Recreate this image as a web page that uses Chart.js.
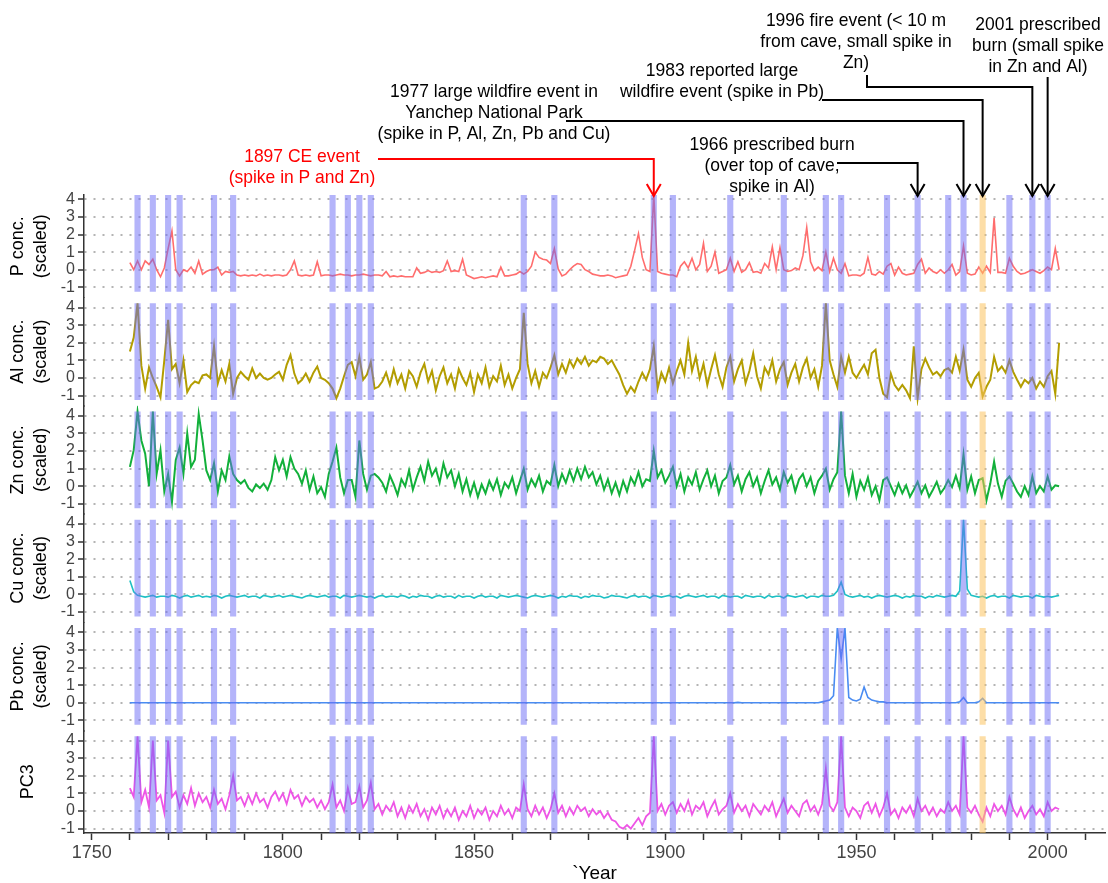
<!DOCTYPE html>
<html lang="en">
<head>
<meta charset="UTF-8">
<title>Fire events and scaled element concentrations</title>
<script src="https://cdn.jsdelivr.net/npm/chart.js"></script>
<style>
  html, body { margin: 0; padding: 0; background: #fff; }
  #wrap { width: 1108px; height: 883px; }
</style>
</head>
<body>
<div id="wrap"><canvas id="chart" width="1108" height="883"></canvas></div>
<script>
// annual values, 1760 .. 2003
const startYear = 1760;

const pVals = [
  0.4, 0.0, 0.5, 0.0, 0.5, 0.3, 0.6, 0.0, -0.4, 0.1,
  1.2, 2.2, 0.0, -0.35, 0.0, -0.1, 0.15, -0.2, 0.5, -0.25,
  -0.1, 0.0, 0.0, 0.15, -0.3, -0.1, -0.15, -0.1, -0.3, -0.35,
  -0.3, -0.35, -0.3, -0.35, -0.25, -0.35, -0.3, -0.35, -0.3, -0.3,
  -0.35, -0.3, 0.0, 0.5, -0.3, -0.35, -0.3, -0.35, -0.3, 0.45,
  -0.35, -0.3, -0.3, -0.35, -0.3, -0.25, -0.3, -0.3, -0.35, -0.3,
  -0.3, -0.25, -0.3, -0.35, -0.3, -0.3, -0.35, -0.1, -0.4, -0.35,
  -0.4, -0.35, -0.4, -0.4, -0.4, 0.1, -0.2, -0.15, -0.05, -0.15,
  -0.1, -0.15, -0.05, 0.5, -0.1, -0.05, -0.1, 0.6, -0.3, -0.4,
  -0.5, -0.45, -0.4, -0.45, -0.4, -0.35, -0.4, 0.15, -0.35, -0.35,
  -0.3, -0.25, -0.1, -0.25, -0.1, 0.2, 1.0, 0.7, 0.6, 0.55,
  0.35, 1.2, 0.05, -0.35, -0.25, 0.0, 0.2, 0.35, 0.3, 0.0,
  -0.1, -0.25, -0.3, -0.35, -0.35, -0.3, -0.35, -0.45, -0.4, -0.35,
  -0.3, 0.2, 1.1, 2.05, 0.7, 0.0, -0.1, 4.24, -0.1, -0.2,
  -0.25, -0.3, -0.3, -0.4, 0.2, 0.45, 0.1, 0.65, 0.0, 0.3,
  1.5, -0.1, 0.2, 1.0, -0.2, -0.1, 0.0, 0.65, -0.1, 0.45,
  -0.15, 0.0, 0.4, -0.15, -0.1, -0.2, 0.35, 0.1, 1.3, 0.0,
  1.25, 0.0, -0.1, -0.05, 0.1, 0.0, 0.8, 2.4, 0.45, -0.05,
  0.15, -0.05, 1.0, -0.1, 0.65, 0.0, -0.2, 0.35, -0.35, -0.3,
  -0.3, -0.35, -0.2, 0.7, -0.25, -0.3, -0.1, -0.25, 0.2, 0.35,
  -0.3, 0.15, -0.2, -0.3, -0.25, -0.2, 0.3, 0.6, -0.2, 0.1,
  -0.1, -0.2, 0.0, -0.2, 0.0, 0.3, -0.3, -0.1, 1.35, -0.2,
  -0.3, -0.25, 0.15, -0.2, 0.2, -0.15, 2.95, -0.15, -0.15, -0.2,
  0.65, 0.2, -0.1, -0.25, -0.2, -0.1, 0.0, -0.1, -0.2, -0.05,
  0.15, 0.0, 1.2, 0.0
];

const alVals = [
  1.5, 2.3, 4.24, 0.7, -0.6, 0.6, 0.0, -0.5, -1.1, 1.0,
  3.3, 0.5, 0.8, -0.3, 1.0, -0.8, -0.4, -0.2, -0.3, 0.15,
  0.2, 0.0, 1.8, -0.3, 0.45, -0.2, 0.8, -0.9, 0.0, 0.35,
  0.1, -0.1, 0.55, 0.0, 0.25, 0.0, -0.1, 0.0, 0.2, 0.35,
  -0.1, 0.75, 1.3, 0.25, -0.3, -0.1, 0.25, -0.2, 0.3, 0.65,
  0.0, -0.1, -0.3, -0.6, -1.15, -0.6, 0.1, 0.75, 0.9, 0.1,
  1.2, -0.1, 0.2, 0.9, -0.6, -0.5, -0.2, 0.3, -0.4, 0.5,
  -0.3, 0.2, -0.6, 0.4, 0.1, -0.5, 0.3, 0.8, -0.2, 0.4,
  -0.7, 0.1, 0.6, -0.3, 0.2, -0.6, 0.5, 0.0, -0.4, 0.3,
  -0.8, 0.2, -0.3, 0.6, -0.5, 0.1, -0.2, 0.7, -0.4, 0.2,
  -0.6, 0.0, 0.5, 3.7, 0.8, -0.3, 0.4, -0.5, 0.3, 0.0,
  0.6, 1.3, 0.2, 0.8, 0.3, 1.0, 0.6, 1.1, 0.8, 1.2,
  0.7, 1.0, 0.9, 1.2, 1.1, 0.8, 1.0, 0.6, 0.2, -0.4,
  -0.9, -0.5, -0.8, -0.2, 0.3, -0.1, 0.5, 1.8, -0.6, 0.3,
  -0.2, 0.6, -0.3, 0.4, 1.0, 0.2, 2.0, 0.4, 1.2, 0.0,
  0.8, -0.4, 0.5, 1.3, 0.2, -0.5, 0.6, 1.2, -0.2, 0.5,
  1.0, -0.3, 0.4, 1.4, 0.1, -0.6, 0.6, 0.2, 1.0, -0.2,
  0.5, 0.9, -0.4, 0.3, 0.8, -0.2, 0.6, 1.1, 0.0, 0.5,
  -0.5, 0.7, 4.24, 1.0, 0.2, -0.5, 1.2, 0.3, 1.2, 0.3,
  0.0, 0.4, 0.75, 0.2, 1.4, 1.6, 0.0, -0.9, -1.1, 0.25,
  -0.4, -0.7, -0.4, -0.7, -1.15, 1.8, -1.15, 0.5, 1.1, 0.6,
  0.2, 0.35, 0.1, 0.45, 0.55, 0.3, 1.2, 0.4, 1.6, -0.1,
  -0.5, 0.0, 0.3, -1.05, -0.5, -0.1, 1.2, 0.4, 0.65, 0.3,
  1.0, 0.35, -0.1, -0.5, -0.1, -0.3, 0.0, -0.6, -0.2, -0.5,
  0.1, 0.4, -0.9, 2.0
];

const znVals = [
  1.1, 2.05, 4.24, 2.6, 1.85, 0.0, 4.24, 0.7, 2.05, -0.3,
  0.7, -0.9, 1.5, 2.2, 0.7, 3.0, 1.1, 1.5, 4.1, 2.6,
  0.9, 0.35, 1.3, -0.3, 0.9, 0.35, 1.7, 0.7, 0.35, 0.15,
  0.35, -0.1, -0.3, 0.1, -0.1, 0.15, -0.2, 0.35, 1.65, 0.9,
  1.5, 0.55, 1.65, 1.0, 0.7, 0.15, 0.9, -0.2, 0.55, -0.4,
  -0.05, -0.6, 0.7, 1.4, 2.2, 0.5, -0.4, 0.35, 0.35, -0.6,
  2.6, 0.7, -0.2, 0.6, 0.7, 0.5, 0.2, -0.3, 0.6, 0.1,
  -0.5, 0.4, 0.0, 0.9, -0.2, 0.5, 1.1, 0.3, 1.4, 0.6,
  1.0, 0.2, 1.3, 0.5, 0.9, 0.0, 0.7, -0.3, 0.4, -0.5,
  0.2, -0.6, 0.1, -0.4, 0.3, -0.2, 0.4, -0.5, 0.2, -0.1,
  0.5, -0.4, 0.3, 1.0, -0.2, 0.4, 0.0, 0.6, -0.3, 0.3,
  0.1, 1.2, 0.0, 0.7, 0.2, 0.9, 0.3, 1.0, 0.4, 1.1,
  0.5, 0.8, 0.1, 0.6, -0.2, 0.4, -0.4, 0.2, -0.5, 0.3,
  -0.3, 0.5, 0.1, 0.8, 0.0, 0.4, 0.3, 2.0, 0.5, 0.9,
  0.2, 0.6, 1.1, 0.0, 0.7, -0.3, 0.5, 0.1, 0.8, -0.2,
  0.4, 0.9, 0.0, 0.6, -0.4, 0.3, 0.5, 1.2, 0.1, 0.6,
  -0.3, 0.4, 0.8, 0.0, 0.5, -0.4, 0.3, 0.9, 0.1, 0.5,
  -0.2, 0.8, 0.2, 0.6, -0.3, 0.4, 0.7, 0.0, 0.5, -0.4,
  0.3, 0.6, 1.0, -0.2, 0.4, 0.8, 4.24, 0.6, -0.4, 0.7,
  -0.6, 0.3, -0.2, 0.5, -0.5, 0.0, -0.8, 0.35, 0.5, 0.0,
  -0.5, 0.15, -0.4, 0.05, -0.6, -0.2, 0.25, -0.4, 0.05, -0.6,
  -0.2, 0.25, -0.4, -0.1, 0.35, -0.05, 0.6, -0.1, 1.8, -0.2,
  0.55, -0.4, 0.35, 0.45, -0.8, 0.15, 1.4, 0.15, -0.6, 0.3,
  0.55, 0.15, -0.3, -0.6, 0.0, -0.5, 0.55, -0.4, 0.0, -0.3,
  0.55, -0.2, 0.05, 0.0
];

const cuVals = [
  0.8, 0.15, -0.05, -0.1, -0.15, -0.1, -0.05, -0.15, -0.1, -0.1,
  -0.15, -0.05, -0.1, -0.2, -0.1, -0.05, -0.15, -0.1, -0.05, -0.15,
  -0.1, -0.15, -0.05, -0.1, -0.2, -0.1, -0.05, -0.1, -0.15, -0.1,
  -0.05, -0.15, -0.1, -0.1, -0.2, -0.05, -0.1, -0.15, -0.1, -0.05,
  -0.15, -0.1, -0.05, -0.1, -0.15, -0.2, -0.1, -0.05, -0.1, -0.15,
  -0.1, -0.05, -0.15, -0.1, -0.1, -0.2, -0.05, -0.1, -0.15, -0.1,
  -0.05, -0.1, -0.15, -0.1, -0.2, -0.1, -0.05, -0.15, -0.1, -0.1,
  -0.15, -0.05, -0.1, -0.2, -0.1, -0.15, -0.05, -0.1, -0.1, -0.2,
  -0.1, -0.05, -0.15, -0.1, -0.1, -0.2, -0.05, -0.15, -0.1, -0.1,
  -0.2, -0.1, -0.05, -0.15, -0.1, -0.1, -0.2, -0.05, -0.1, -0.15,
  -0.1, -0.05, -0.1, -0.15, -0.2, -0.1, -0.05, -0.1, -0.15, -0.1,
  -0.05, -0.1, -0.2, -0.1, -0.15, -0.05, -0.1, -0.1, -0.2, -0.1,
  -0.15, -0.05, -0.1, -0.1, -0.2, -0.15, -0.05, -0.1, -0.1, -0.15,
  -0.2, -0.1, -0.05, -0.15, -0.1, -0.1, -0.2, -0.05, -0.1, -0.15,
  -0.1, -0.05, -0.15, -0.1, -0.2, -0.1, -0.05, -0.1, -0.15, -0.1,
  -0.05, -0.15, -0.1, -0.1, -0.2, -0.05, -0.1, -0.15, -0.1, -0.1,
  -0.2, -0.05, -0.1, -0.15, -0.1, -0.1, -0.2, -0.05, -0.15, -0.1,
  -0.1, -0.2, -0.05, -0.1, -0.15, -0.1, -0.05, -0.2, -0.1, -0.1,
  -0.15, -0.05, -0.1, -0.1, -0.05, 0.2, 0.7, 0.0, -0.1, -0.15,
  -0.1, -0.05, -0.15, -0.1, -0.2, -0.1, -0.05, -0.1, -0.15, -0.1,
  -0.05, -0.1, -0.2, -0.1, -0.15, -0.05, -0.1, -0.1, -0.2, -0.1,
  -0.15, -0.05, -0.1, -0.15, -0.1, -0.05, -0.1, 0.2, 4.24, 0.3,
  -0.05, -0.1, -0.15, -0.1, -0.2, -0.1, -0.05, -0.15, -0.1, -0.1,
  -0.2, -0.05, -0.1, -0.15, -0.1, -0.1, -0.2, -0.05, -0.1, -0.15,
  -0.1, -0.15, -0.1, -0.05
];

const pbVals = [
  0, 0, 0, 0, 0, 0, 0, 0, 0, 0,
  0, 0, 0, 0, 0, 0, 0, 0, 0, 0,
  0, 0, 0, 0, 0, 0, 0, 0, 0, 0,
  0, 0, 0, 0, 0, 0, 0, 0, 0, 0,
  0, 0, 0, 0, 0, 0, 0, 0, 0, 0,
  0, 0, 0, 0, 0, 0, 0, 0, 0, 0,
  0, 0, 0, 0, 0, 0, 0, 0, 0, 0,
  0, 0, 0, 0, 0, 0, 0, 0, 0, 0,
  0, 0, 0, 0, 0, 0, 0, 0, 0, 0,
  0, 0, 0, 0, 0, 0, 0, 0, 0, 0,
  0, 0, 0, 0, 0, 0, 0, 0, 0, 0,
  0, 0, 0, 0, 0, 0, 0, 0, 0, 0,
  0, 0, 0, 0, 0, 0, 0, 0, 0, 0,
  0, 0, 0, 0, 0, 0, 0, 0, 0, 0,
  0, 0, 0, 0, 0, 0, 0, 0, 0, 0,
  0, 0, 0, 0, 0, 0, 0, 0, 0, 0.02,
  0, 0, 0, 0, 0, 0, 0, 0, 0, 0,
  0, 0, 0, 0, 0, 0, 0, 0, 0, 0,
  0.0, 0.05, 0.1, 0.15, 0.4, 4.24, 2.5, 4.24, 0.3, 0.15,
  0.1, 0.2, 0.9, 0.3, 0.15, 0.1, 0.05, 0.05, 0.0, 0.0,
  0, 0, 0, 0, 0, 0, 0, 0, 0, 0,
  0, 0, 0, 0, 0, 0, 0, 0.05, 0.3, 0.0,
  0, 0, 0.05, 0.25, 0.0, 0, 0, 0, 0, 0,
  0, 0, 0, 0, 0, 0, 0, 0, 0, 0,
  0, 0, 0, 0
];

const pc3Vals = [
  1.3, 0.8, 4.24, 0.5, 1.2, 0.2, 4.0, 0.6, 0.9, -0.1,
  4.0, 0.8, 1.1, 0.2, 0.9, 0.4, 1.3, 0.3, 1.0, 0.5,
  0.8, 0.2, 1.2, 0.4, 0.7, 0.1, 0.9, 2.0, 0.6, 0.8,
  0.3, 0.9, 0.4, 1.0, 0.5, 0.7, 0.2, 0.8, 1.1, 0.6,
  1.0, 0.4, 1.2, 0.7, 0.9, 0.3, 0.8, 0.5, 0.7, 0.2,
  0.6, 0.1, 0.5, 1.5, 0.2, 0.6, 0.0, 1.3, 0.4, 0.5,
  1.4, 0.2, 0.6, 1.6, 0.1, 0.4, -0.2, 0.3, 0.0, 0.5,
  -0.3, 0.2, -0.4, 0.3, -0.1, 0.4, -0.3, 0.1, -0.5, 0.2,
  -0.2, 0.3, -0.4, 0.1, -0.3, 0.2, -0.5, 0.0, -0.3, 0.3,
  -0.4, 0.1, -0.2, 0.2, -0.5, 0.0, -0.3, 0.3, -0.2, 0.1,
  -0.4, 0.2, 0.0, 1.5, 0.1, -0.3, 0.3, -0.2, 0.2, -0.4,
  0.1, 1.0, -0.1, 0.3, -0.3, 0.2, -0.2, 0.3, 0.0, 0.2,
  -0.3, 0.1, -0.2, 0.0, -0.4, -0.1, -0.5, -0.6, -0.9, -1.0,
  -0.8, -1.0, -0.7, -0.4, -0.8, -0.3, -0.1, 4.24, 0.0, 0.4,
  -0.2, 0.3, 0.5, -0.1, 0.4, 0.0, 0.6, -0.2, 0.3, 0.1,
  0.5, -0.3, 0.2, 0.6, -0.2, 0.1, 0.3, 1.0, -0.1, 0.4,
  0.0, 0.3, -0.3, 0.4, 0.1, -0.2, 0.3, 0.0, 0.5, -0.3,
  0.2, 0.7, -0.1, 0.3, 0.0, -0.3, 0.4, 0.6, 0.0, 0.3,
  -0.2, 0.4, 2.4, 0.3, 0.0, 0.5, 4.24, 0.2, -0.3, 0.2,
  0.0, -0.4, 0.3, 0.5, -0.1, 0.4, -0.3, 0.2, 1.0, -0.2,
  0.1, -0.4, 0.2, -0.1, 0.3, -0.3, 0.7, 0.0, 0.3, -0.2,
  0.2, -0.3, 0.1, -0.1, 0.5, 0.0, 0.3, -0.2, 4.24, 0.2,
  -0.1, 0.3, -0.2, -0.6, 0.2, -0.3, 0.4, 0.0, 0.3, -0.2,
  0.8, 0.1, -0.3, 0.2, -0.4, 0.0, 0.3, -0.2, 0.1, -0.3,
  0.5, 0.0, 0.2, 0.1
];

// shaded event years
const fireYears = [1762, 1766, 1770, 1773, 1782, 1787, 1813, 1817, 1820, 1823,
  1863, 1871, 1897, 1902, 1917, 1931, 1942, 1946, 1958, 1966,
  1974, 1978, 1990, 1996, 2000];
const reportedYears = [1983];

const xTicks = [1750, 1760, 1770, 1780, 1790, 1800, 1810, 1820, 1830, 1840, 1850,
  1860, 1870, 1880, 1890, 1900, 1910, 1920, 1930, 1940, 1950, 1960, 1970, 1980,
  1990, 2000, 2010];
const yTicks = [-1, 0, 1, 2, 3, 4];

const panels = [
  { id: 'yP',   title: ['P conc.', '(scaled)'],  values: pVals,   color: '#ff6d6d', width: 1.6 },
  { id: 'yAl',  title: ['Al conc.', '(scaled)'], values: alVals,  color: '#b39d00', width: 2 },
  { id: 'yZn',  title: ['Zn conc.', '(scaled)'], values: znVals,  color: '#12b03a', width: 2 },
  { id: 'yCu',  title: ['Cu conc.', '(scaled)'], values: cuVals,  color: '#1ec0c4', width: 1.6 },
  { id: 'yPb',  title: ['Pb conc.', '(scaled)'], values: pbVals,  color: '#4a8cf2', width: 1.6 },
  { id: 'yPC3', title: 'PC3',                    values: pc3Vals, color: '#ee55e6', width: 1.8 }
];

const FONT = "'Liberation Sans', Arial, sans-serif";
Chart.defaults.font.family = FONT;

const bandTop = 4.245, bandBottom = -1.25, bandHalf = 0.8;

const datasets = panels.map(p => ({
  data: p.values.map((v, i) => ({ x: startYear + i, y: v })),
  yAxisID: p.id,
  borderColor: p.color,
  borderWidth: p.width,
  pointRadius: 0,
  tension: 0,
  fill: false
}));

const scales = {
  x: {
    type: 'linear', min: 1748, max: 2015,
    afterBuildTicks: s => { s.ticks = xTicks.map(v => ({ value: v })); },
    afterFit: s => { s.height = 50; },
    ticks: { autoSkip: false, maxRotation: 0, color: '#444', font: { size: 18 }, padding: 2,
      callback: v => (v % 50 === 0 ? String(v) : '') },
    grid: { drawOnChartArea: false, tickLength: 7, tickColor: '#333', tickWidth: 1.5 },
    border: { color: '#333', width: 1.5 },
    title: { display: true, text: '`Year', color: '#000', font: { size: 19, lineHeight: 1 }, padding: 0 }
  }
};

panels.forEach((p, i) => {
  const last = panels.length - 1;
  const single = !Array.isArray(p.title);
  scales[p.id] = {
    type: 'linear', position: 'left', stack: 'panels', weight: panels.length - i,
    stackWeight: (i === 0 || i === last) ? 102.45 : 108.2,
    min: i === last ? -1.25 : -1.577,
    max: i === 0 ? 4.245 : 4.572,
    afterBuildTicks: s => { s.ticks = yTicks.map(v => ({ value: v })); },
    afterFit: s => { s.width = 84; },
    ticks: { autoSkip: false, color: '#444', font: { size: 16 }, padding: 3 },
    grid: { color: '#b4b4b4', lineWidth: 2, tickLength: 6, tickColor: '#333', tickWidth: 1.5, tickBorderDash: [] },
    border: { display: true, color: '#333', width: 1.5, dash: [2, 7] },
    title: { display: true, text: p.title, color: '#000', font: { size: 18, lineHeight: 1.3 },
      padding: { top: single ? 16 : 6, bottom: 0 } }
  };
});

const bandPlugin = {
  id: 'eventBands',
  afterDatasetsDraw(chart) {
    const { ctx } = chart;
    const xs = chart.scales.x;
    ctx.save();
    panels.forEach(p => {
      const ys = chart.scales[p.id];
      const top = ys.getPixelForValue(bandTop);
      const bot = ys.getPixelForValue(bandBottom);
      const band = (yr, color) => {
        const x0 = xs.getPixelForValue(yr - bandHalf);
        const x1 = xs.getPixelForValue(yr + bandHalf);
        ctx.fillStyle = color;
        ctx.fillRect(x0, top, x1 - x0, bot - top);
      };
      fireYears.forEach(yr => band(yr, 'rgba(105,105,245,0.5)'));
      reportedYears.forEach(yr => band(yr, 'rgba(251,195,95,0.55)'));
    });
    ctx.restore();
  }
};

// callouts above the top panel
const notes = [
  { year: 1897, color: '#ff0000', lines: ['1897 CE event', '(spike in P and Zn)'], tx: 302, ty: 157, path: [[378, 159]] },
  { year: 1966, lines: ['1966 prescribed burn', '(over top of cave,', 'spike in Al)'], tx: 772, ty: 145, path: [[837, 163]] },
  { year: 1978, lines: ['1977 large wildfire event in', 'Yanchep National Park', '(spike in P, Al, Zn, Pb and Cu)'], tx: 494, ty: 92, path: [[566, 121]] },
  { year: 1983, lines: ['1983 reported large', 'wildfire event (spike in Pb)'], tx: 722, ty: 71, path: [[822, 100]] },
  { year: 1996, lines: ['1996 fire event (< 10 m', 'from cave, small spike in', 'Zn)'], tx: 856, ty: 21, path: [[867, 75], [867, 87]] },
  { year: 2000, lines: ['2001 prescribed', 'burn (small spike', 'in Zn and Al)'], tx: 1038, ty: 25, path: [], startY: 77 }
];

const notePlugin = {
  id: 'callouts',
  afterDraw(chart) {
    const { ctx } = chart;
    const xs = chart.scales.x;
    const tipY = chart.chartArea.top + 1;
    ctx.save();
    ctx.font = '19px ' + FONT;
    ctx.textAlign = 'center';
    ctx.textBaseline = 'middle';
    notes.forEach(n => {
      const color = n.color || '#000';
      ctx.fillStyle = color;
      n.lines.forEach((t, k) => {
        ctx.save();
        ctx.translate(n.tx, n.ty + k * 21);
        ctx.scale(0.92, 1);
        ctx.fillText(t, 0, 0);
        ctx.restore();
      });
      const ax = xs.getPixelForValue(n.year);
      const pts = n.path.slice();
      if (pts.length) pts.push([ax, pts[pts.length - 1][1]]);
      else pts.push([ax, n.startY]);
      pts.push([ax, tipY]);
      ctx.strokeStyle = color;
      ctx.lineWidth = 2;
      ctx.beginPath();
      pts.forEach((pt, k) => (k ? ctx.lineTo(pt[0], pt[1]) : ctx.moveTo(pt[0], pt[1])));
      ctx.stroke();
      ctx.beginPath();
      ctx.moveTo(ax - 7, tipY - 12);
      ctx.lineTo(ax, tipY);
      ctx.lineTo(ax + 7, tipY - 12);
      ctx.stroke();
    });
    ctx.restore();
  }
};

new Chart(document.getElementById('chart').getContext('2d'), {
  type: 'line',
  data: { datasets },
  options: {
    responsive: false,
    animation: false,
    layout: { padding: { top: 195, right: 3, left: 0, bottom: 0 } },
    plugins: { legend: { display: false }, tooltip: { enabled: false } },
    scales
  },
  plugins: [bandPlugin, notePlugin]
});
</script>
</body>
</html>
